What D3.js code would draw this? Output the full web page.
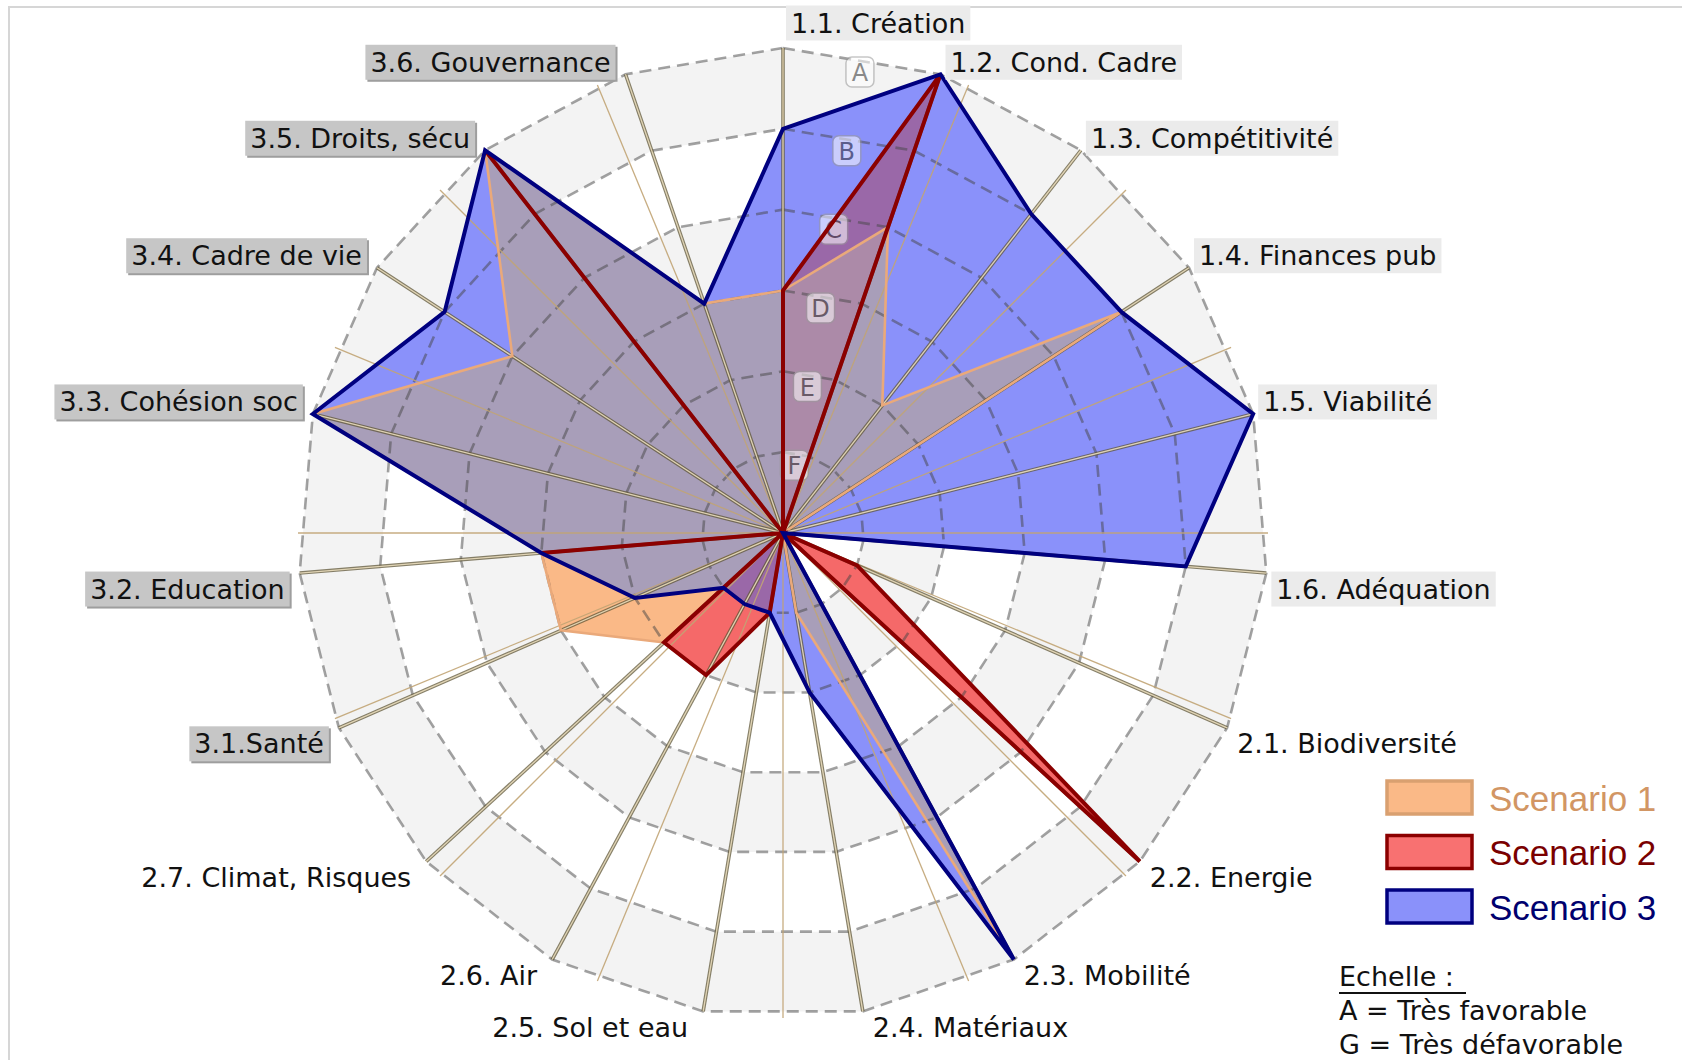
<!DOCTYPE html>
<html><head><meta charset="utf-8">
<script src="https://cdn.jsdelivr.net/npm/d3@7"></script>
<style>body{margin:0;background:#fff;} svg{display:block;}</style>
</head><body>
<svg id="chart" width="1682" height="1060"></svg>
<script>
// ---------- data ----------
const categories = ["1.1. Création","1.2. Cond. Cadre","1.3. Compétitivité","1.4. Finances pub","1.5. Viabilité","1.6. Adéquation",
  "2.1. Biodiversité","2.2. Energie","2.3. Mobilité","2.4. Matériaux","2.5. Sol et eau","2.6. Air","2.7. Climat, Risques",
  "3.1.Santé","3.2. Education","3.3. Cohésion soc","3.4. Cadre de vie","3.5. Droits, sécu","3.6. Gouvernance"];
const gradeLabels = ["G","F","E","D","C","B","A"];   // 0 = G (centre) ... 6 = A (outer ring)
const scenarioNames = ["Scenario 1","Scenario 2","Scenario 3"];
const scenario1 = [3,4,2,5,0,0, 0,0,6,1,0,0,2, 3,3,6,4,6,3];
const scenario2 = [3,6,0,0,0,0, 1,6,0,0,1,2,2, 0,3,0,0,6,0];
const scenario3 = [5,6,5,5,6,5, 0,0,6,2,1,1,1, 2,3,6,5,6,3];
const scaleNotes = ["Echelle :","A = Très favorable","G = Très défavorable"];
const secondarySpokeCount = 16;

// ---------- layout ----------
const svg = d3.select("#chart");
const N = categories.length;
const cx = 783, cy = 533, R = 485;
const angle = d3.scaleLinear().domain([0, N]).range([0, 2*Math.PI]);
const rad = d3.scaleLinear().domain([0, 6]).range([0, R]);
const poly = d3.lineRadial().angle((d,i)=>angle(i)).radius(d=>rad(d)).curve(d3.curveLinearClosed);

const colO = "#fab987", colB = "#8a91fa", colOB = "#a89eb9", colR = "#f56969", colRB = "#9a68a8", colROB = "#ac8aa8";

// frame
svg.append("rect").attr("x",9).attr("y",7).attr("width",1720).attr("height",1100)
  .attr("fill","none").attr("stroke","#d6d6d6").attr("stroke-width",2);

const g = svg.append("g").attr("transform",`translate(${cx},${cy})`);

// defs / clip paths
const defs = svg.append("defs");
defs.append("clipPath").attr("id","clipO").append("path").attr("d", poly(scenario1));
defs.append("clipPath").attr("id","clipB").append("path").attr("d", poly(scenario3));

// background bands
const levels = d3.range(6, 0, -1);
g.selectAll("path.band").data(levels).join("path").attr("class","band")
  .attr("d", k => poly(new Array(N).fill(k)))
  .attr("fill", k => (k % 2 === 0) ? "#f3f3f3" : "#ffffff");

// fills (painter's order with explicit overlap colours)
g.append("path").attr("d", poly(scenario1)).attr("fill", colO);
g.append("path").attr("d", poly(scenario3)).attr("fill", colB);
g.append("path").attr("d", poly(scenario1)).attr("fill", colOB).attr("clip-path","url(#clipB)");
g.append("path").attr("d", poly(scenario2)).attr("fill", colR);
g.append("g").attr("clip-path","url(#clipB)")
  .append("path").attr("d", poly(scenario2)).attr("fill", colRB);
g.append("g").attr("clip-path","url(#clipB)").append("g").attr("clip-path","url(#clipO)")
  .append("path").attr("d", poly(scenario2)).attr("fill", colROB);

// dashed rings
g.selectAll("path.ring").data(d3.range(1,7)).join("path").attr("class","ring")
  .attr("d", k => poly(new Array(N).fill(k)))
  .attr("fill","none").attr("stroke","rgba(70,70,70,0.5)").attr("stroke-width",2.6)
  .attr("stroke-dasharray","12,7");

// secondary thin spokes
const sec = d3.range(secondarySpokeCount);
g.selectAll("line.sec").data(sec).join("line").attr("class","sec")
  .attr("x1",0).attr("y1",0)
  .attr("x2", i => R*Math.sin(i*2*Math.PI/secondarySpokeCount))
  .attr("y2", i => -R*Math.cos(i*2*Math.PI/secondarySpokeCount))
  .attr("stroke","#c2a575").attr("stroke-width",1.3).attr("opacity",0.9);

// main spokes (double line look)
const idx = d3.range(N);
g.selectAll("line.spokeA").data(idx).join("line").attr("class","spokeA")
  .attr("x1",0).attr("y1",0)
  .attr("x2", i => R*Math.sin(angle(i))).attr("y2", i => -R*Math.cos(angle(i)))
  .attr("stroke","rgba(95,85,55,0.75)").attr("stroke-width",3.6);
g.selectAll("line.spokeB").data(idx).join("line").attr("class","spokeB")
  .attr("x1",0).attr("y1",0)
  .attr("x2", i => R*Math.sin(angle(i))).attr("y2", i => -R*Math.cos(angle(i)))
  .attr("stroke","rgba(235,222,190,0.9)").attr("stroke-width",1.3);

// grade letters A..F
const half = angle(0.5);
const gl = g.append("g").attr("opacity",0.55);
d3.range(1,7).forEach(k => {
  const rr = rad(k)*Math.cos(Math.PI/N) - 11;
  const x = rr*Math.sin(half), y = -rr*Math.cos(half);
  gl.append("rect").attr("x",x-14).attr("y",y-15).attr("width",28).attr("height",30).attr("rx",6)
    .attr("fill","#ffffff").attr("stroke","#9a9a9a").attr("stroke-width",1.5);
  gl.append("text").attr("x",x).attr("y",y+1).attr("text-anchor","middle").attr("dominant-baseline","central")
    .attr("font-family","DejaVu Sans, Verdana, sans-serif").attr("font-size",24).attr("fill","#333")
    .text(gradeLabels[k]);
});

// outlines
const strokes = [
  {data: scenario1, color:"#eaa97a", w:2.6},
  {data: scenario2, color:"#8b0000", w:4},
  {data: scenario3, color:"#00007f", w:4}
];
strokes.forEach(s => {
  g.append("path").attr("d", poly(s.data)).attr("fill","none")
    .attr("stroke", s.color).attr("stroke-width", s.w).attr("stroke-linejoin","miter").attr("stroke-miterlimit",6);
});

// axis labels
const lab = g.append("g").attr("font-family","DejaVu Sans, Verdana, sans-serif").attr("font-size",27).attr("fill","#111");
categories.forEach((name,i) => {
  const a = angle(i), s = Math.sin(a), c = Math.cos(a);
  const ex = R*s, ey = -R*c;
  let x, y, anchor;
  if (Math.abs(s) < 0.01) { anchor="start"; x = ex+8; y = ey-25; }
  else {
    if (s > 0) { anchor="start"; x = ex+10; } else { anchor="end"; x = ex-15; }
    y = c > 0 ? ey-12 : ey+16;
  }
  const grp = lab.append("g");
  const t = grp.append("text").attr("x",x).attr("y",y).attr("text-anchor",anchor)
    .attr("dominant-baseline","central").text(name);
  const bb = t.node().getBBox();
  const group = name.charAt(0);
  if (group === "1") {
    grp.insert("rect","text").attr("x",bb.x-5).attr("y",bb.y-2).attr("width",bb.width+10).attr("height",bb.height+4)
      .attr("fill","#ebebeb");
  } else if (group === "3") {
    grp.insert("rect","text").attr("x",bb.x-3).attr("y",bb.y).attr("width",bb.width+10).attr("height",bb.height+4)
      .attr("fill","#9e9e9e");
    grp.insert("rect","text").attr("x",bb.x-5).attr("y",bb.y-2).attr("width",bb.width+10).attr("height",bb.height+4)
      .attr("fill","#c6c6c6");
  }
});

// legend
const legColors = [
  {fill:"#fab987", stroke:"#d9a070", text:"#d29664"},
  {fill:"#f87171", stroke:"#8b0000", text:"#7a0000"},
  {fill:"#8a91fa", stroke:"#00007f", text:"#00006e"}
];
const leg = svg.append("g");
scenarioNames.forEach((n,i) => {
  const y0 = 781 + i*54.5;
  leg.append("rect").attr("x",1387).attr("y",y0).attr("width",85).attr("height",33)
    .attr("fill",legColors[i].fill).attr("stroke",legColors[i].stroke).attr("stroke-width",3.5);
  leg.append("text").attr("x",1489).attr("y",y0+17).attr("dominant-baseline","central")
    .attr("font-family","Liberation Sans, Arial, sans-serif").attr("font-size",35)
    .attr("fill",legColors[i].text).text(n);
});

// scale note
const sn = svg.append("g").attr("font-family","DejaVu Sans, Verdana, sans-serif").attr("font-size",27).attr("fill","#111");
scaleNotes.forEach((tx,i) => {
  sn.append("text").attr("x",1339).attr("y",986 + i*34).text(tx);
});
sn.append("line").attr("x1",1339).attr("x2",1466).attr("y1",993).attr("y2",993).attr("stroke","#111").attr("stroke-width",2);
</script>
</body></html>
